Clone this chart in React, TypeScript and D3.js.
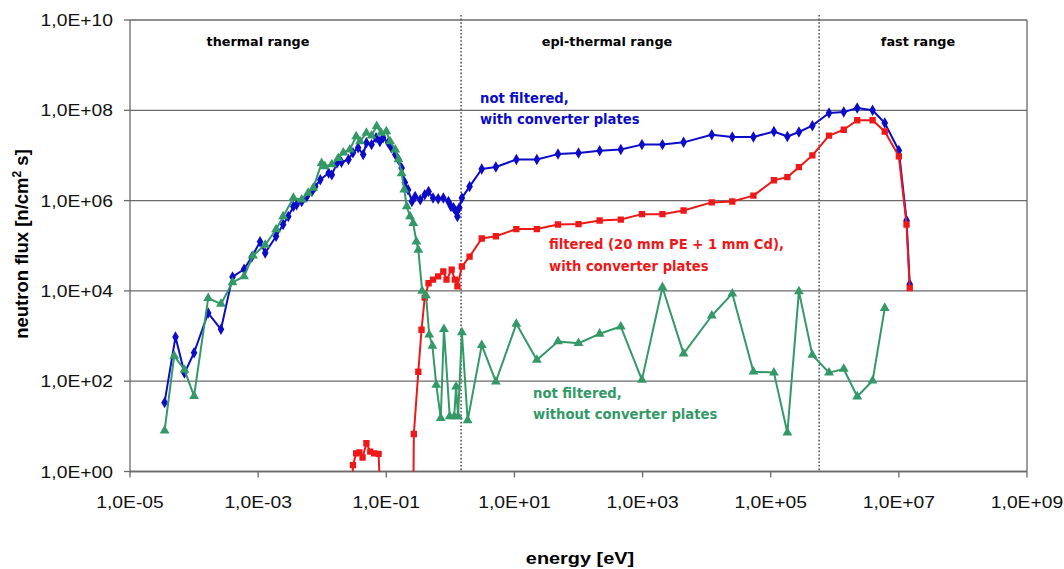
import React from 'react';
import * as d3 from 'd3';

// Axis ticks
const xTickValues = [1e-5, 1e-3, 1e-1, 1e1, 1e3, 1e5, 1e7, 1e9];
const yTickValues = [1, 1e2, 1e4, 1e6, 1e8, 1e10];

// Energy-range dividers (eV)
const rangeDividers = [1.47, 5.7e5];
const rangeLabels = ['thermal range', 'epi-thermal range', 'fast range'];

// Data, in decades: log10(energy [eV]) and log10(flux)
// Blue: not filtered, with converter plates
const blueLogE = [
  -4.46, -4.29, -4.15, -4.0, -3.78, -3.58, -3.4, -3.22, -3.1, -2.97, -2.89, -2.72, -2.61, -2.53,
  -2.45, -2.4, -2.32, -2.24, -2.16, -2.11, -2.03, -1.9, -1.85, -1.77, -1.7, -1.59, -1.52, -1.44,
  -1.36, -1.31, -1.23, -1.16, -1.1, -1.05, -0.97, -0.92, -0.86, -0.81, -0.76, -0.71, -0.66, -0.6,
  -0.55, -0.47, -0.4, -0.34, -0.27, -0.19, -0.11, -0.03, 0.01, 0.05, 0.09, 0.11, 0.14, 0.18,
  0.3, 0.49, 0.71, 1.03, 1.35, 1.68, 2.0, 2.33, 2.66, 2.99, 3.31, 3.64, 4.08, 4.4, 4.73, 5.05,
  5.26, 5.44, 5.65, 5.91, 6.14, 6.35, 6.59, 6.78, 7.0, 7.12, 7.17,
];
const blueLogFlux = [
  1.53, 2.98, 2.18, 2.63, 3.51, 3.15, 4.31, 4.48, 4.75, 5.09, 4.84, 5.21, 5.47, 5.65,
  5.87, 5.91, 5.98, 6.09, 6.2, 6.31, 6.46, 6.61, 6.57, 6.83, 6.85, 6.91, 7.06, 7.17,
  7.02, 7.28, 7.24, 7.39, 7.31, 7.39, 7.28, 7.17, 7.02, 6.91, 6.72, 6.4, 6.24, 5.98,
  6.09, 6.02, 6.13, 6.2, 6.06, 6.04, 6.06, 5.98, 5.87, 5.84, 5.76, 5.65, 5.84, 6.06,
  6.31, 6.7, 6.745, 6.91, 6.91, 7.03, 7.055, 7.106, 7.13, 7.24, 7.24, 7.29, 7.46, 7.41, 7.41, 7.53,
  7.42, 7.52, 7.66, 7.94, 7.96, 8.05, 8.0, 7.72, 7.11, 5.56, 4.15,
];

// Red: filtered (20 mm PE + 1 mm Cd), with converter plates
const redLogE = [
  -1.55, -1.52, -1.47, -1.42, -1.37, -1.31, -1.25, -1.19, -1.12, -1.08,
  -0.58, -0.57, -0.5, -0.45, -0.4, -0.34, -0.27, -0.19, -0.11, -0.06, 0.02, 0.07, 0.11, 0.18,
  0.3, 0.49, 0.71, 1.03, 1.35, 1.68, 2.0, 2.33, 2.66, 2.99, 3.31, 3.64, 4.08, 4.4, 4.73, 5.05,
  5.26, 5.44, 5.65, 5.91, 6.14, 6.35, 6.59, 6.78, 7.0, 7.12, 7.17,
];
const redLogFlux = [
  -1.0, 0.14, 0.4, 0.42, 0.31, 0.625, 0.44, 0.4, 0.39, -1.0,
  -1.0, 0.83, 2.21, 3.14, 3.85, 4.17, 4.25, 4.32, 4.43, 4.25, 4.47, 4.25, 4.1, 4.54,
  4.76, 5.16, 5.21, 5.37, 5.37, 5.47, 5.48, 5.56, 5.58, 5.7, 5.7, 5.78, 5.96, 5.98, 6.11, 6.45,
  6.52, 6.74, 7.0, 7.44, 7.57, 7.78, 7.78, 7.53, 6.98, 5.47, 4.06,
];

// Green: not filtered, without converter plates
const greenLogE = [
  -4.46, -4.31, -4.15, -4.0, -3.78, -3.58, -3.4, -3.22, -3.08, -2.89, -2.72, -2.61, -2.45, -2.32,
  -2.22, -2.14, -2.01, -1.96, -1.85, -1.75, -1.67, -1.57, -1.47, -1.41, -1.31, -1.23, -1.15, -1.08,
  -1.0, -0.94, -0.86, -0.81, -0.76, -0.72, -0.68, -0.63, -0.58, -0.53, -0.5, -0.44, -0.38, -0.33,
  -0.28, -0.22, -0.15, -0.1, -0.01, 0.06, 0.09, 0.12, 0.18, 0.27,
  0.49, 0.71, 1.03, 1.35, 1.68, 2.0, 2.33, 2.66, 2.99, 3.31, 3.64, 4.08, 4.4, 4.73, 5.05,
  5.26, 5.44, 5.65, 5.91, 6.14, 6.35, 6.59, 6.78,
];
const greenLogFlux = [
  0.905, 2.56, 2.25, 1.67, 3.84, 3.71, 4.19, 4.32, 4.78, 5.02, 5.36, 5.65, 6.06, 6.02,
  6.17, 6.28, 6.83, 6.76, 6.8, 6.94, 7.06, 7.13, 7.42, 7.31, 7.5, 7.44, 7.65, 7.5,
  7.53, 7.31, 7.13, 6.91, 6.6, 6.24, 5.87, 5.65, 5.5, 5.09, 4.91, 4.0, 3.9, 3.03,
  2.78, 1.92, 1.18, 3.15, 1.22, 1.22, 1.88, 1.22, 3.08, 1.13,
  2.8, 1.99, 3.27, 2.47, 2.88, 2.84, 3.05, 3.21, 2.03, 4.08, 2.61, 3.45, 3.94, 2.21, 2.19,
  0.86, 3.99, 2.58, 2.19, 2.27, 1.66, 2.01, 3.62,
];

const W = 1064;
const H = 569;
const left = 130;
const right = 1027;
const top = 20;
const bottom = 471.5;

const BLUE = '#0c0cc8';
const RED = '#ee1818';
const GREEN = '#339966';
const GRID = '#6a6a6a';

const x = d3.scaleLog().domain([1e-5, 1e9]).range([left, right]);
const y = d3.scaleLog().domain([1, 1e10]).range([bottom, top]);

type Pt = [number, number];
const toPts = (le: number[], lf: number[]): Pt[] => le.map((e, i) => [Math.pow(10, e), Math.pow(10, lf[i])]);

const series = [
  { name: 'blue', pts: toPts(blueLogE, blueLogFlux), color: BLUE, symbol: d3.symbolDiamond, size: 38 },
  { name: 'red', pts: toPts(redLogE, redLogFlux), color: RED, symbol: d3.symbolSquare, size: 40 },
  { name: 'green', pts: toPts(greenLogE, greenLogFlux), color: GREEN, symbol: d3.symbolTriangle, size: 42 },
];

const fmt = (v: number) => {
  const e = Math.round(Math.log10(v));
  const s = e < 0 ? '-' : '+';
  return `1,0E${s}${String(Math.abs(e)).padStart(2, '0')}`;
};

const line = d3
  .line<Pt>()
  .x((d) => x(d[0]))
  .y((d) => y(d[1]));

const tickFont = '"Liberation Sans", Arial, sans-serif';
const labelFont = '"DejaVu Sans", Verdana, sans-serif';
const stretch = 1.17;

export default function App() {
  return (
    <svg
      width={W}
      height={H}
      style={{ position: 'absolute', left: 0, top: 0, background: '#fff' }}
    >
      <defs>
        <clipPath id="plotClip">
          <rect x={left} y={top - 10} width={right - left + 10} height={bottom - top + 10} />
        </clipPath>
      </defs>
      <rect x={0} y={0} width={W} height={H} fill="#fff" />

      {/* gridlines */}
      {yTickValues.map((v) => (
        <line key={'g' + v} x1={left} x2={right} y1={y(v)} y2={y(v)} stroke={GRID} strokeWidth={1.3} />
      ))}
      {/* right border */}
      <line x1={right} x2={right} y1={top} y2={bottom} stroke={GRID} strokeWidth={1.3} />

      {/* range dividers */}
      {rangeDividers.map((v) => (
        <line
          key={'d' + v}
          x1={x(v)}
          x2={x(v)}
          y1={top - 5}
          y2={bottom}
          stroke="#555"
          strokeWidth={1.6}
          strokeDasharray="1.6,2"
        />
      ))}

      {/* axes */}
      <line x1={left} x2={left} y1={top} y2={bottom} stroke={GRID} strokeWidth={1.3} />
      <line x1={left} x2={right} y1={bottom} y2={bottom} stroke={GRID} strokeWidth={1.3} />
      {yTickValues.map((v) => (
        <g key={'yt' + v}>
          <line x1={left - 6} x2={left} y1={y(v)} y2={y(v)} stroke={GRID} strokeWidth={1.3} />
          <text
            transform={`translate(${left - 17},${y(v) + 6}) scale(${stretch},1)`}
            textAnchor="end"
            fontFamily={tickFont}
            fontSize={16.5}
            fill="#111"
          >
            {fmt(v)}
          </text>
        </g>
      ))}
      {xTickValues.map((v) => (
        <g key={'xt' + v}>
          <line x1={x(v)} x2={x(v)} y1={bottom} y2={bottom + 6} stroke={GRID} strokeWidth={1.3} />
          <text
            transform={`translate(${x(v)},${508}) scale(${stretch},1)`}
            textAnchor="middle"
            fontFamily={tickFont}
            fontSize={16.5}
            fill="#111"
          >
            {fmt(v)}
          </text>
        </g>
      ))}

      {/* series */}
      <g clipPath="url(#plotClip)">
        {series.map((s) => (
          <g key={s.name}>
            <path d={line(s.pts) || ''} fill="none" stroke={s.color} strokeWidth={2} strokeLinejoin="round" />
            {s.pts.map((p, i) => (
              <path
                key={i}
                transform={`translate(${x(p[0])},${y(p[1])})`}
                d={d3.symbol().type(s.symbol).size(s.size)() || ''}
                fill={s.color}
              />
            ))}
          </g>
        ))}
      </g>

      {/* range labels */}
      {rangeLabels.map((t, i) => (
        <text
          key={t}
          x={[258, 607, 918][i]}
          y={46}
          textAnchor="middle"
          fontFamily={labelFont}
          fontWeight="bold"
          fontSize={12.8}
          fill="#000"
        >
          {t}
        </text>
      ))}

      {/* series labels */}
      <g fontFamily={labelFont} fontWeight="bold" fontSize={13.2}>
        <text x={480} y={103} fill={BLUE}>not filtered,</text>
        <text x={480} y={124} fill={BLUE}>with converter plates</text>
        <text x={549} y={249} fill={RED}>filtered (20 mm PE + 1 mm Cd),</text>
        <text x={549} y={271} fill={RED}>with converter plates</text>
        <text x={533} y={398} fill={GREEN}>not filtered,</text>
        <text x={533} y={419} fill={GREEN}>without converter plates</text>
      </g>

      {/* axis titles */}
      <text
        transform={`translate(580,564) scale(${stretch},1)`}
        textAnchor="middle"
        fontFamily={tickFont}
        fontWeight="bold"
        fontSize={17}
        fill="#000"
      >
        energy [eV]
      </text>
      <text
        transform={`translate(28,244) rotate(-90)`}
        textAnchor="middle"
        fontFamily={tickFont}
        fontWeight="bold"
        fontSize={18.5}
        fill="#000"
      >
        neutron flux [n/cm
        <tspan dy={-7} fontSize={12}>2</tspan>
        <tspan dy={7}> s]</tspan>
      </text>
    </svg>
  );
}
